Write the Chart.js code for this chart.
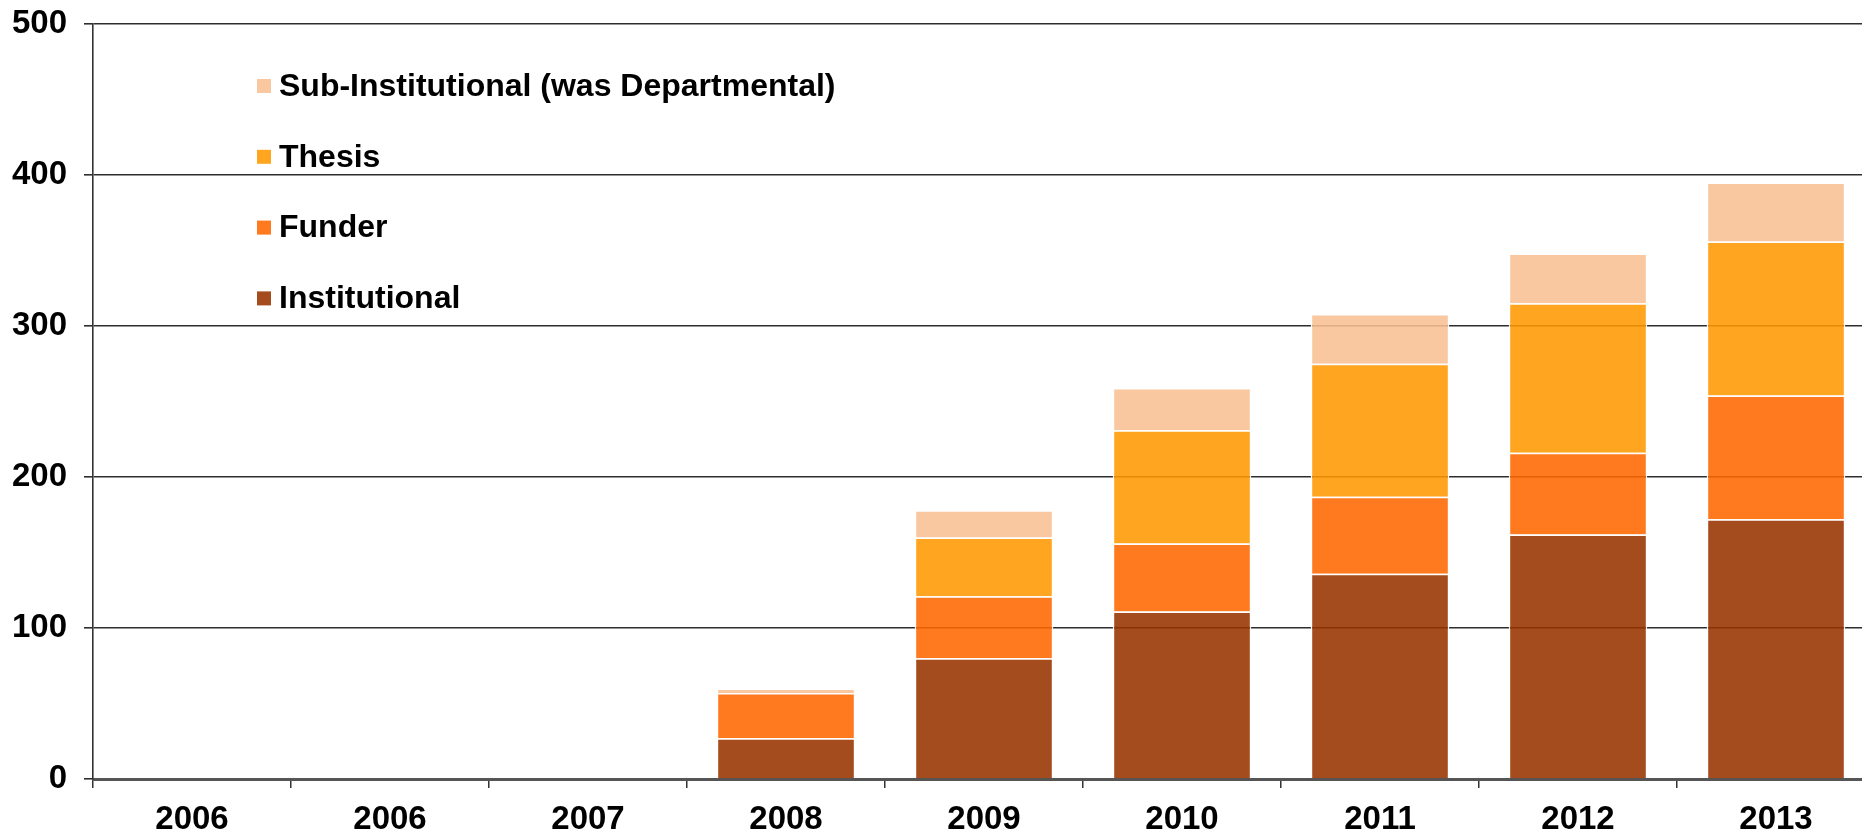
<!DOCTYPE html>
<html>
<head>
<meta charset="utf-8">
<script src="https://cdn.jsdelivr.net/npm/chart.js@4.4.1/dist/chart.umd.min.js"></script>
<style>
html,body{margin:0;padding:0;background:#fff;overflow:hidden;}
#wrap{position:relative;width:1875px;height:835px;}
</style>
</head>
<body>
<div id="wrap"><canvas id="c" width="1875" height="835"></canvas></div>
<script>
const categories = ['2006','2006','2007','2008','2009','2010','2011','2012','2013'];
const institutional = [0,0,0,27,80,111,136,162,172];
const funder = [0,0,0,30,41,45,51,54,82];
const thesis = [0,0,0,0,39,75,88,99,102];
const subInstitutional = [0,0,0,3,18,28,33,33,39];
const yTicks = [0,100,200,300,400,500];

const FONT = "'Liberation Sans', Arial, sans-serif";

const legendPlugin = {
  id: 'vlegend',
  afterDraw(chart) {
    const ctx = chart.ctx;
    const o = chart.options.plugins.vlegend;
    const ds = chart.data.datasets.slice().reverse();
    ctx.save();
    ctx.font = 'bold ' + o.fontSize + 'px ' + FONT;
    ctx.textBaseline = 'middle';
    ctx.textAlign = 'left';
    ds.forEach((d, i) => {
      const y = o.top + i * o.gap;
      ctx.fillStyle = d.backgroundColor;
      ctx.fillRect(o.boxX, y - o.box / 2, o.box, o.box);
      ctx.fillStyle = '#000';
      ctx.fillText(d.label, o.textX, y + 1);
    });
    ctx.restore();
  }
};

new Chart(document.getElementById('c'), {
  type: 'bar',
  data: {
    labels: categories,
    datasets: [
      {label: 'Institutional', data: institutional, backgroundColor: 'rgba(153,51,0,0.88)'},
      {label: 'Funder', data: funder, backgroundColor: 'rgba(255,102,0,0.88)'},
      {label: 'Thesis', data: thesis, backgroundColor: 'rgba(255,153,0,0.88)'},
      {label: 'Sub-Institutional (was Departmental)', data: subInstitutional, backgroundColor: 'rgba(248,192,147,0.88)'}
    ].map(d => Object.assign(d, {borderColor: 'rgba(255,255,255,0.95)', borderWidth: 1.5, categoryPercentage: 1.0, barPercentage: 0.7}))
  },
  options: {
    responsive: false,
    devicePixelRatio: 1,
    animation: false,
    layout: {padding: {left: 0, top: 24, right: 0, bottom: 0}},
    plugins: {
      legend: {display: false},
      tooltip: {enabled: false},
      vlegend: {top: 86, gap: 70.8, boxX: 257, box: 14, textX: 279, fontSize: 32}
    },
    scales: {
      x: {
        stacked: true,
        offset: true,
        grid: {display: true, drawOnChartArea: false, drawTicks: true, tickLength: 9, offset: true, color: '#333', lineWidth: 1.5},
        border: {display: true, color: '#555', width: 3},
        ticks: {color: '#000', font: {family: FONT, size: 33, weight: 'bold'}, padding: 12, maxRotation: 0, autoSkip: false},
        afterFit(s) { s.height = 56; s.paddingLeft = 0; s.paddingRight = 0; }
      },
      y: {
        stacked: true,
        min: 0, max: 500,
        afterBuildTicks(s) { s.ticks = yTicks.map(v => ({value: v})); },
        grid: {color: '#2e2e2e', lineWidth: 1.6, tickLength: 9},
        border: {display: true, color: '#333', width: 1.6},
        ticks: {color: '#000', font: {family: FONT, size: 33, weight: 'bold'}, padding: 17},
        afterFit(s) { s.width = 93; s.paddingTop = 0; s.paddingBottom = 0; }
      }
    }
  },
  plugins: [legendPlugin]
});
</script>
</body>
</html>
